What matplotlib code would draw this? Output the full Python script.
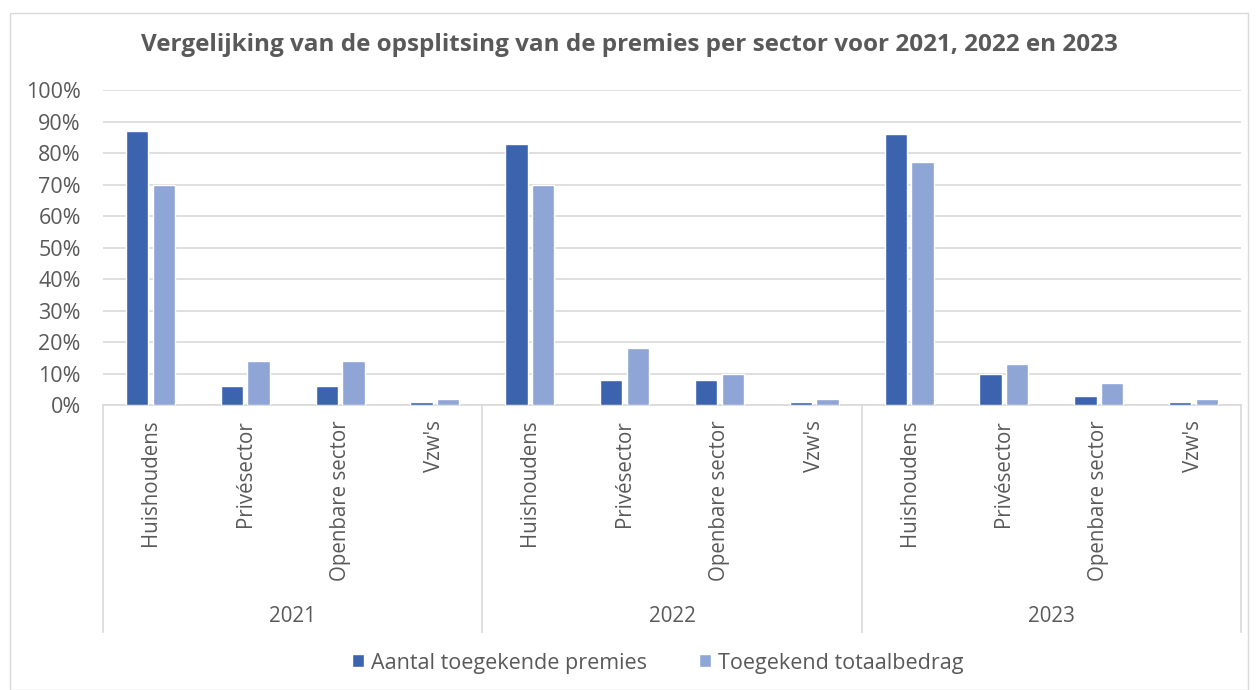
import matplotlib.pyplot as plt
from matplotlib.patches import Rectangle
import numpy as np

plt.rcParams['font.family'] = ['Open Sans', 'DejaVu Sans']

years = ["2021", "2022", "2023"]
sectors = ["Huishoudens", "Privésector", "Openbare sector", "Vzw's"]
series_names = ["Aantal toegekende premies", "Toegekend totaalbedrag"]
# percentages per year, in sector order
aantal = [87, 6, 6, 1,
          83, 8, 8, 1,
          86, 10, 3, 1]
bedrag = [70, 14, 14, 2,
          70, 18, 10, 2,
          77, 13, 7, 2]

dark = "#3C64AE"
light = "#8FA5D5"
grid = "#D9D9D9"
txt = "#595959"

W, H = 1258, 690
fig = plt.figure(figsize=(W / 100, H / 100), dpi=100)
# outer chart border
fig.patches.append(Rectangle((10 / W, 0), 1238 / W, 1 - 13 / H, transform=fig.transFigure,
                             fill=False, edgecolor=grid, linewidth=1))

left, right, top, bottom = 103, 1241, 90, 405
ax = fig.add_axes([left / W, 1 - bottom / H, (right - left) / W, (bottom - top) / H])

x = np.arange(len(aantal))
ax.bar(x - 0.14, aantal, 0.235, color=dark, edgecolor="white", linewidth=1, zorder=3,
       label=series_names[0])
ax.bar(x + 0.14, bedrag, 0.235, color=light, edgecolor="white", linewidth=1, zorder=3,
       label=series_names[1])

ax.set_xlim(-0.5, len(x) - 0.5)
ax.set_ylim(0, 100)
ax.set_yticks(range(0, 101, 10))
ax.set_yticklabels([f"{v}%" for v in range(0, 101, 10)])
ax.yaxis.grid(True, color=grid, linewidth=1.2, zorder=0)
ax.tick_params(axis="y", length=0, pad=16, labelsize=15.5, labelcolor=txt)
ax.set_xticks([])
for s in ["top", "right", "left"]:
    ax.spines[s].set_visible(False)
ax.spines["bottom"].set_color(grid)
ax.spines["bottom"].set_linewidth(1.2)

tr = ax.get_xaxis_transform()
axh = bottom - top
for i, lab in enumerate(sectors * len(years)):
    ax.text(i, -15 / axh, lab, transform=tr, rotation=90, ha="center", va="top",
            fontsize=14.8, color=txt)
for g, yr in enumerate(years):
    ax.text(g * 4 + 1.5, -212 / axh, yr, transform=tr, ha="center", va="center",
            fontsize=14.8, color=txt)
for g in range(len(years) + 1):
    ax.plot([g * 4 - 0.5] * 2, [0, -227 / axh], transform=tr, color=grid,
            linewidth=1.2, clip_on=False)

fig.text(629 / W, 1 - 45 / H,
         "Vergelijking van de opsplitsing van de premies per sector voor 2021, 2022 en 2023",
         ha="center", va="center", fontsize=17.5, fontweight="bold", color=txt)

fig.legend(loc="center", bbox_to_anchor=(658 / W, 1 - 663 / H), ncol=2, frameon=False,
           fontsize=15.5, labelcolor=txt, handlelength=0.55, handleheight=0.55,
           handletextpad=0.35, columnspacing=2.4)

fig.savefig("out.png", dpi=100)
